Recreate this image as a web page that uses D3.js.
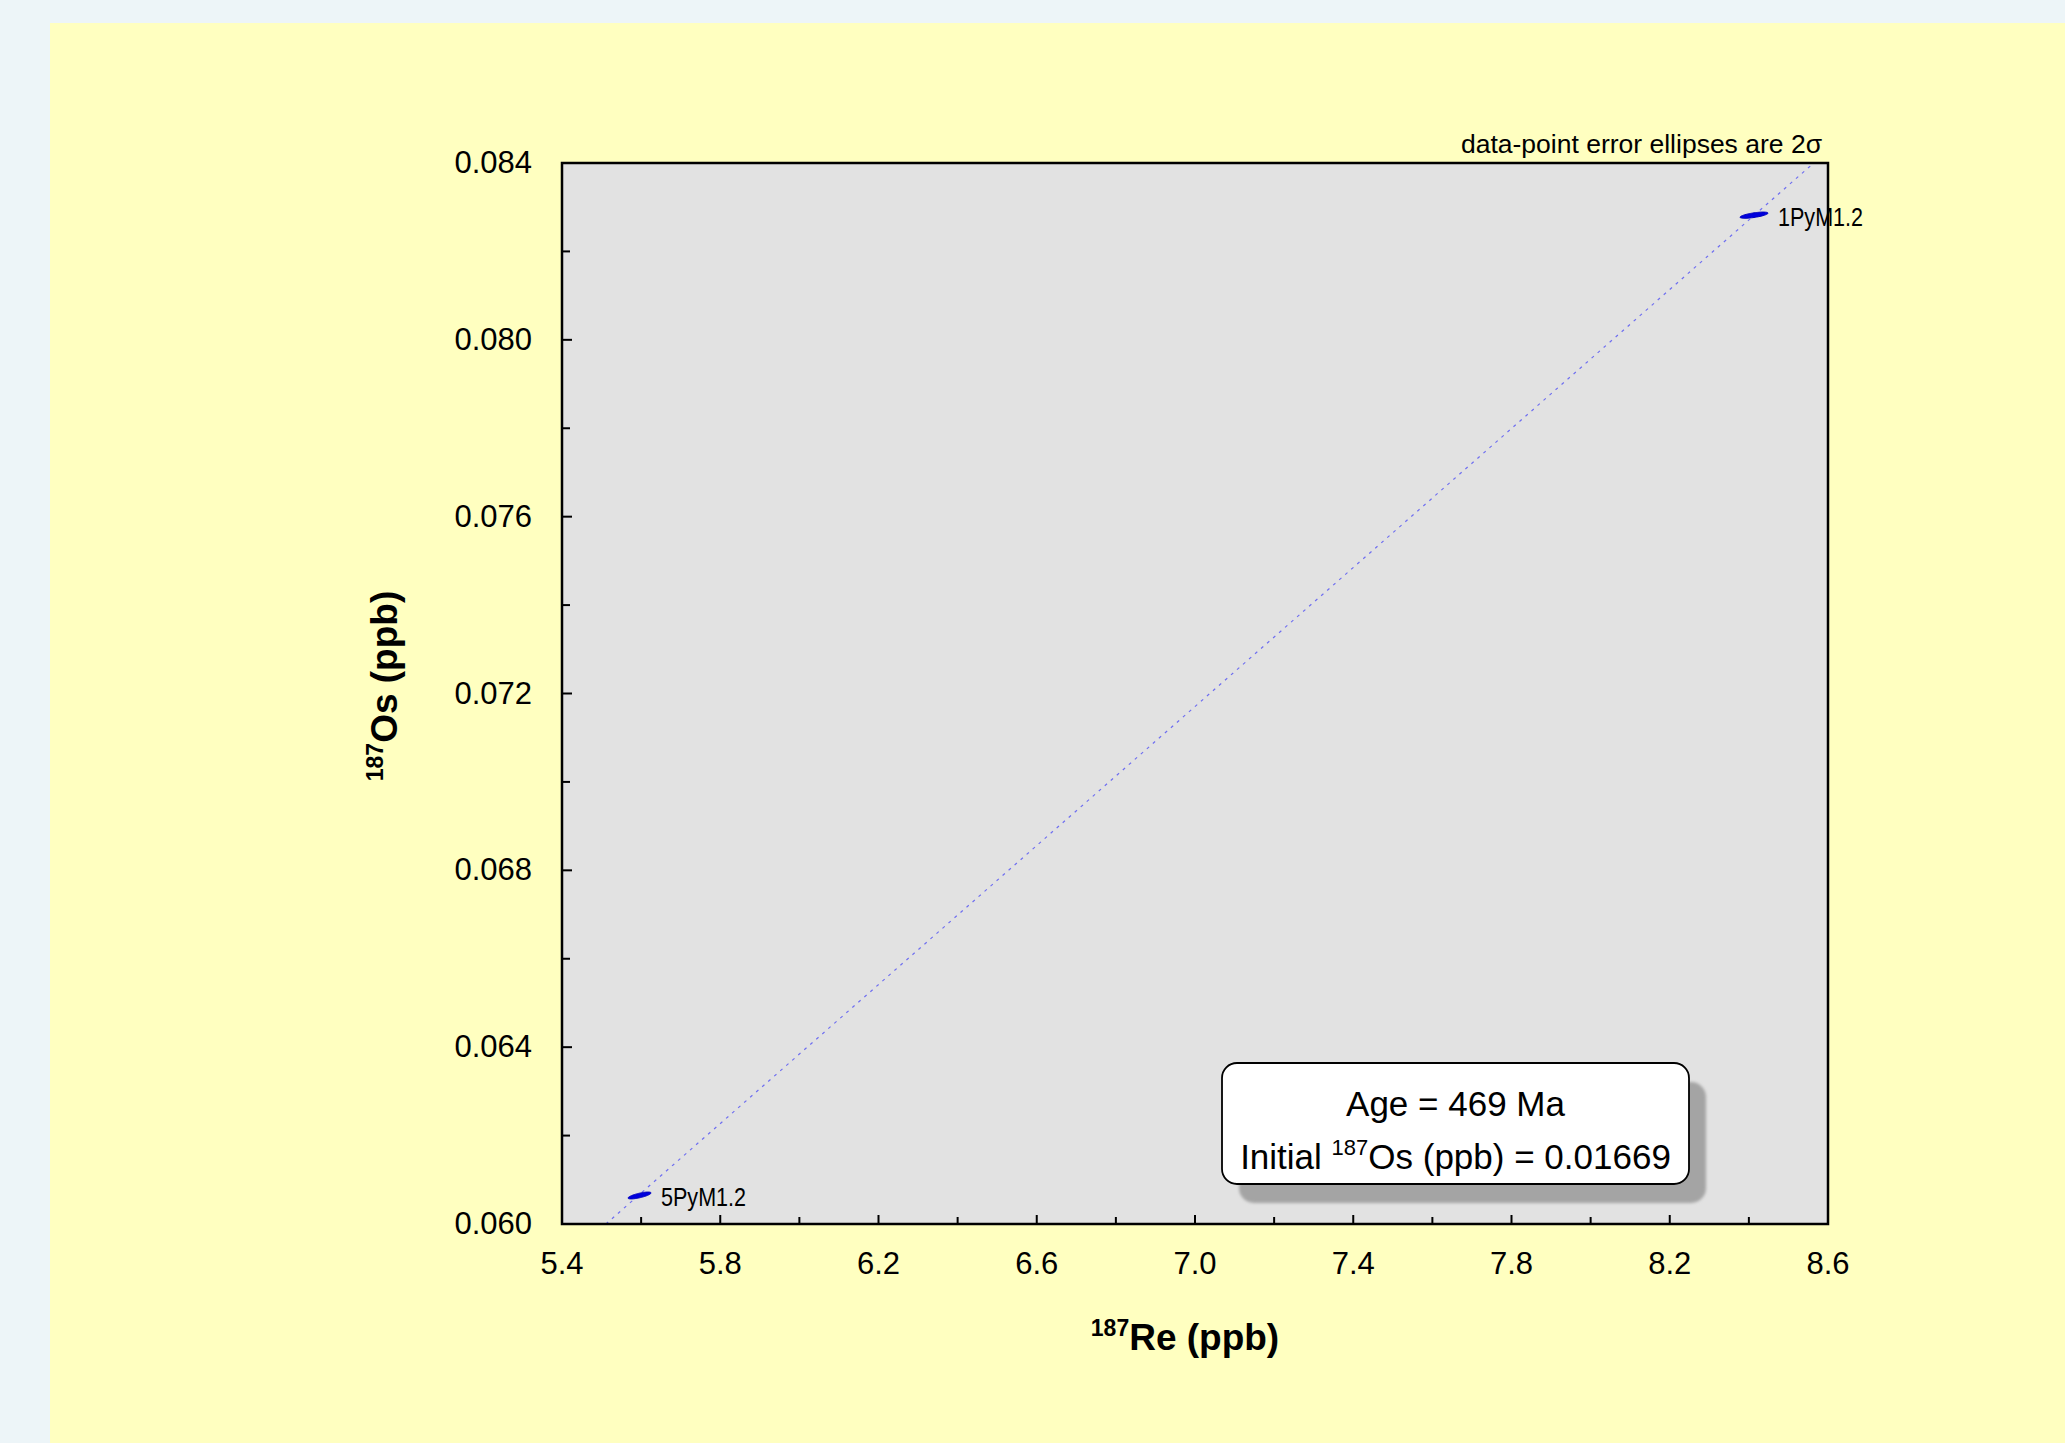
<!DOCTYPE html>
<html>
<head>
<meta charset="utf-8">
<script src="https://cdn.jsdelivr.net/npm/d3@7/dist/d3.min.js"></script>
<style>
  html, body { margin: 0; padding: 0; background: #edf5f8; }
  svg { display: block; }
  text { font-family: "Liberation Sans", Arial, Helvetica, sans-serif; }
</style>
</head>
<body>
<script>
// ---- data ----
const sampleNames = ["1PyM1.2", "5PyM1.2"];
const re187 = [8.413, 5.596];          // x, ppb
const os187 = [0.08282, 0.060645];     // y, ppb
const re187Err2s = [0.0354, 0.029];    // 2σ x
const os187Err2s = [0.000070, 0.000078]; // 2σ y
const errCorr = [0.66, 0.74];
const isochronRe = [5.511, 8.564];
const isochronOs = [0.060, 0.084];
const xTicks = [5.4, 5.8, 6.2, 6.6, 7.0, 7.4, 7.8, 8.2, 8.6];
const xMinorTicks = [5.6, 6.0, 6.4, 6.8, 7.2, 7.6, 8.0, 8.4];
const yTicks = [0.060, 0.064, 0.068, 0.072, 0.076, 0.080, 0.084];
const yMinorTicks = [0.062, 0.066, 0.070, 0.074, 0.078, 0.082];
const ageText = "Age = 469 Ma";
const initialValue = "0.01669";

const W = 2065, H = 1443;
const plot = { left: 562, top: 163, right: 1828, bottom: 1224 };

const svg = d3.select("body").append("svg").attr("width", W).attr("height", H);

// backgrounds
svg.append("rect").attr("x", 0).attr("y", 0).attr("width", W).attr("height", H).attr("fill", "#edf5f8");
svg.append("rect").attr("x", 50).attr("y", 23).attr("width", W - 50).attr("height", H - 23).attr("fill", "#ffffc0");

const x = d3.scaleLinear().domain([5.4, 8.6]).range([plot.left, plot.right]);
const y = d3.scaleLinear().domain([0.060, 0.084]).range([plot.bottom, plot.top]);

// plot area
svg.append("rect")
  .attr("x", plot.left).attr("y", plot.top)
  .attr("width", plot.right - plot.left).attr("height", plot.bottom - plot.top)
  .attr("fill", "#e2e2e2");

const defs = svg.append("defs");
defs.append("clipPath").attr("id", "clip").append("rect")
  .attr("x", plot.left).attr("y", plot.top)
  .attr("width", plot.right - plot.left).attr("height", plot.bottom - plot.top);
const blur = defs.append("filter").attr("id", "shblur").attr("x", "-10%").attr("y", "-10%").attr("width", "120%").attr("height", "120%");
blur.append("feGaussianBlur").attr("stdDeviation", 1.5);

// isochron line
const g = svg.append("g").attr("clip-path", "url(#clip)");
g.append("line")
  .attr("x1", x(isochronRe[0])).attr("y1", y(isochronOs[0]))
  .attr("x2", x(isochronRe[1])).attr("y2", y(isochronOs[1]))
  .attr("stroke", "#6f6ff0").attr("stroke-width", 1.2).attr("stroke-dasharray", "3,5");

// error ellipses
const ellipseLine = d3.line().curve(d3.curveLinearClosed);
sampleNames.forEach((name, i) => {
  const cx = re187[i], cy = os187[i];
  const sx = re187Err2s[i], sy = os187Err2s[i], r = errCorr[i];
  const pts = d3.range(0, 72).map(k => {
    const t = k / 72 * 2 * Math.PI;
    const dx = sx * Math.cos(t);
    const dy = sy * (r * Math.cos(t) + Math.sqrt(1 - r * r) * Math.sin(t));
    return [x(cx + dx), y(cy + dy)];
  });
  g.append("path").attr("d", ellipseLine(pts))
    .attr("fill", "#0000dd").attr("stroke", "#0000c0").attr("stroke-width", 1);
  svg.append("text")
    .attr("x", x(cx + sx) + 10).attr("y", y(cy) + 10.5)
    .attr("font-size", 25)
    .attr("textLength", 85).attr("lengthAdjust", "spacingAndGlyphs")
    .attr("fill", "#000")
    .text(name);
});

// ticks (inward, bottom and left only)
const tickG = svg.append("g").attr("stroke", "#000").attr("stroke-width", 2);
xTicks.forEach(v => tickG.append("line").attr("x1", x(v)).attr("x2", x(v)).attr("y1", plot.bottom).attr("y2", plot.bottom - 9));
xMinorTicks.forEach(v => tickG.append("line").attr("x1", x(v)).attr("x2", x(v)).attr("y1", plot.bottom).attr("y2", plot.bottom - 7));
yTicks.forEach(v => tickG.append("line").attr("y1", y(v)).attr("y2", y(v)).attr("x1", plot.left).attr("x2", plot.left + 10));
yMinorTicks.forEach(v => tickG.append("line").attr("y1", y(v)).attr("y2", y(v)).attr("x1", plot.left).attr("x2", plot.left + 8));

// frame
svg.append("rect")
  .attr("x", plot.left).attr("y", plot.top)
  .attr("width", plot.right - plot.left).attr("height", plot.bottom - plot.top)
  .attr("fill", "none").attr("stroke", "#000").attr("stroke-width", 2.5);

// tick labels
svg.append("g").selectAll("text").data(xTicks).join("text")
  .attr("x", d => x(d)).attr("y", 1274)
  .attr("text-anchor", "middle").attr("font-size", 31).attr("fill", "#000")
  .text(d => d3.format(".1f")(d));
svg.append("g").selectAll("text").data(yTicks).join("text")
  .attr("x", 532).attr("y", d => y(d) + 10)
  .attr("text-anchor", "end").attr("font-size", 31).attr("fill", "#000")
  .text(d => d3.format(".3f")(d));

// axis titles
const xt = svg.append("text").attr("x", 1185).attr("y", 1350)
  .attr("text-anchor", "middle").attr("font-size", 37).attr("font-weight", "bold").attr("fill", "#000");
xt.append("tspan").attr("font-size", 23).attr("dy", -14).text("187");
xt.append("tspan").attr("dy", 14).text("Re (ppb)");

const yt = svg.append("text").attr("transform", "translate(397,686) rotate(-90)")
  .attr("text-anchor", "middle").attr("font-size", 37).attr("font-weight", "bold").attr("fill", "#000");
yt.append("tspan").attr("font-size", 23).attr("dy", -14).text("187");
yt.append("tspan").attr("dy", 14).text("Os (ppb)");

// note
svg.append("text").attr("x", 1822).attr("y", 153)
  .attr("text-anchor", "end").attr("font-size", 26.5).attr("fill", "#000")
  .text("data-point error ellipses are 2σ");

// info box
const box = { x: 1222, y: 1063, w: 467, h: 121 };
svg.append("rect")
  .attr("x", box.x + 17).attr("y", box.y + 19).attr("width", box.w).attr("height", box.h)
  .attr("rx", 15).attr("fill", "#a4a4a4").attr("filter", "url(#shblur)");
svg.append("rect")
  .attr("x", box.x).attr("y", box.y).attr("width", box.w).attr("height", box.h)
  .attr("rx", 15).attr("fill", "#ffffff").attr("stroke", "#000").attr("stroke-width", 1.8);
svg.append("text").attr("x", box.x + box.w / 2).attr("y", 1116)
  .attr("text-anchor", "middle").attr("font-size", 35).attr("fill", "#000")
  .text(ageText);
const it = svg.append("text").attr("x", box.x + box.w / 2).attr("y", 1169)
  .attr("text-anchor", "middle").attr("font-size", 35).attr("fill", "#000");
it.append("tspan").text("Initial ");
it.append("tspan").attr("font-size", 22).attr("dy", -14).text("187");
it.append("tspan").attr("dy", 14).text("Os (ppb) = " + initialValue);
</script>
</body>
</html>
